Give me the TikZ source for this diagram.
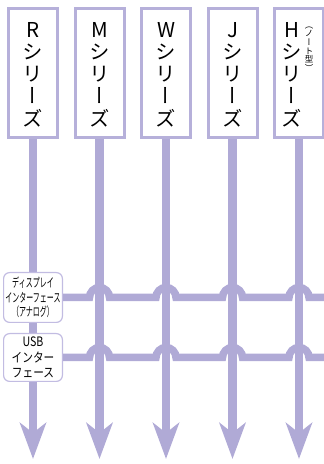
\documentclass[tikz,border=0pt]{standalone}
\usepackage{fontspec}
\usetikzlibrary{arrows.meta, positioning}
\newfontfamily\tatefont[RawFeature=+vert]{Noto Sans CJK JP}
\newfontfamily\condfont[FakeStretch=0.56]{Noto Sans CJK JP}
\newfontfamily\usbfont[FakeStretch=0.82]{Noto Sans CJK JP}
\definecolor{lineLila}{HTML}{B0AAD6}
\definecolor{boxLila}{HTML}{B6B0DA}
\definecolor{tagLila}{HTML}{C2BCE2}
\tikzset{
  seriesBox/.style={rectangle, draw=boxLila, line width=3pt, fill=white,
                    minimum width=49pt, minimum height=129pt, inner sep=0pt},
  seriesText/.style={align=center, inner sep=0pt,
                     font=\tatefont\fontsize{20.5}{22.3}\selectfont},
  noteText/.style={align=center, inner sep=0pt,
                   font=\tatefont\fontsize{8.5}{8.7}\selectfont},
  tagBox/.style={rectangle, rounded corners=6pt, draw=tagLila, line width=1.2pt,
                 fill=white, minimum width=58.8pt, align=center, inner sep=0pt},
  busV/.style={-{Stealth[length=36pt, width=26pt, inset=10pt]}, lineLila,
               line width=8.5pt},
  busH/.style={lineLila, line width=7.5pt},
}
\begin{document}
\begin{tikzpicture}[x=1pt, y=1pt]
  \useasboundingbox (0,0) rectangle (324,464);
  \coordinate (edge) at (324,0);
  % series columns with downward arrows
  \foreach \i/\l/\dx in {1/R/0,2/M/0,3/W/0,4/J/0,5/H/-7} {
    \node[seriesBox] (s\i) at ({33+66.5*(\i-1)}, 391) {};
    \coordinate (e\i) at ({33+66.5*(\i-1)}, 5);
    \draw[busV] (s\i.south) -- (e\i);
    \node[seriesText] (t\i) at ([xshift=\dx pt, yshift=-1.5pt]s\i.center)
      {\l\\シ\\リ\\ー\\ズ};
  }
  % small note beside H
  \node[noteText] (note) at (309, 415) {（\\ノ\\ー\\ト\\型\\）};
  % interface labels
  \node[tagBox, minimum height=49.8pt,
        font=\condfont\fontsize{12.5}{14.5}\selectfont]
        (disp) at (33, 166.5) {ディスプレイ\\インターフェース\\（アナログ）};
  \node[tagBox, minimum height=47.8pt,
        font=\usbfont\fontsize{13}{15.5}\selectfont]
        (usb) at (33, 106.5) {USB\\インター\\フェース};
  % buses hopping over the columns
  \draw[busH] (disp.east) foreach \i in {2,...,5} {
      -- ([xshift=-10pt]disp.east -| s\i) arc[start angle=180, end angle=0, radius=10pt]
    } -- (disp.east -| edge);
  \draw[busH] (usb.east) foreach \i in {2,...,5} {
      -- ([xshift=-10pt]usb.east -| s\i) arc[start angle=180, end angle=0, radius=10pt]
    } -- (usb.east -| edge);
\end{tikzpicture}
\end{document}
